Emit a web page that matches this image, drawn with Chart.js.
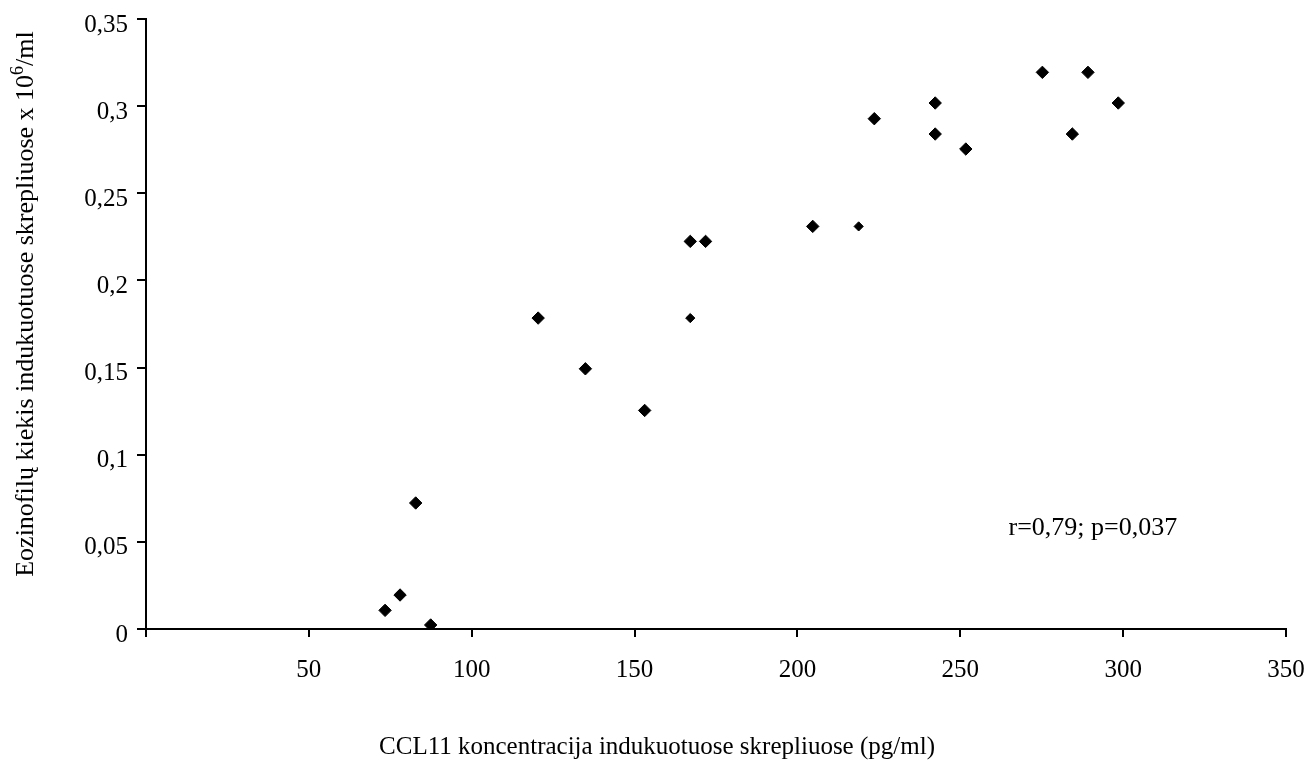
<!DOCTYPE html>
<html>
<head>
<meta charset="utf-8">
<script src="https://cdn.jsdelivr.net/npm/chart.js@4"></script>
<style>
  html, body { margin: 0; padding: 0; background: #fff; }
  #wrap { width: 1313px; height: 762px; position: relative; }
</style>
</head>
<body>
<div id="wrap"><canvas id="scatterChart"></canvas></div>
<script>
// CCL11 concentration (pg/ml) vs eosinophils (x10^6/ml)
const ccl11 = [73.4, 78.0, 82.8, 87.4, 120.4, 134.9, 153.1, 167.1, 167.1, 171.8,
               204.7, 218.8, 223.6, 242.3, 242.3, 251.7, 275.2, 289.2, 284.4, 298.5];
const eosinophils = [0.0107, 0.0195, 0.0723, 0.0023, 0.1784, 0.1493, 0.1254, 0.1784, 0.2224, 0.2224,
                     0.231, 0.231, 0.2928, 0.3018, 0.284, 0.2754, 0.3194, 0.3194, 0.284, 0.3018];
const xTicks = [0, 50, 100, 150, 200, 250, 300, 350];
const yTicks = [0, 0.05, 0.1, 0.15, 0.2, 0.25, 0.3, 0.35];
const xTitle = 'CCL11 koncentracija indukuotuose skrepliuose (pg/ml)';
const yTitle = 'Eozinofilų kiekis indukuotuose skrepliuose x 10';
const yTitleSup = '6';
const yTitleEnd = '/ml';
const statsText = 'r=0,79; p=0,037';
const statsAt = { x: 264.8, y: 0.058 };

// points drawn a bit smaller in the original
const smallPoints = [7, 11];

const FONT = "'Liberation Serif', 'Times New Roman', serif";

const titlesPlugin = {
    id: 'titles',
    afterDraw(chart) {
        const ctx = chart.ctx;
        const xs = chart.scales.x;
        const ys = chart.scales.y;
        ctx.save();
        ctx.fillStyle = '#000';

        // x axis title
        ctx.font = '25px ' + FONT;
        ctx.textAlign = 'center';
        ctx.textBaseline = 'middle';
        ctx.fillText(xTitle, 657, 747);

        // y axis title, rotated, with superscript 6
        ctx.translate(26, 304);
        ctx.rotate(-Math.PI / 2);
        ctx.font = '26px ' + FONT;
        const w1 = ctx.measureText(yTitle).width;
        ctx.font = '18px ' + FONT;
        const w2 = ctx.measureText(yTitleSup).width;
        ctx.font = '26px ' + FONT;
        const w3 = ctx.measureText(yTitleEnd).width;
        const start = -(w1 + w2 + w3) / 2;
        ctx.textAlign = 'left';
        ctx.fillText(yTitle, start, 0);
        ctx.font = '18px ' + FONT;
        ctx.fillText(yTitleSup, start + w1, -8);
        ctx.font = '26px ' + FONT;
        ctx.fillText(yTitleEnd, start + w1 + w2, 0);
        ctx.restore();

        // correlation note
        ctx.save();
        ctx.fillStyle = '#000';
        ctx.font = '26px ' + FONT;
        ctx.textAlign = 'left';
        ctx.textBaseline = 'middle';
        ctx.fillText(statsText, xs.getPixelForValue(statsAt.x), ys.getPixelForValue(statsAt.y));
        ctx.restore();
    }
};

const ctx = document.getElementById('scatterChart').getContext('2d');

new Chart(ctx, {
    type: 'scatter',
    data: {
        datasets: [{
            data: ccl11.map((x, i) => ({ x: x, y: eosinophils[i] })),
            backgroundColor: '#000',
            borderColor: '#000',
            borderWidth: 1,
            pointStyle: 'rectRot',
            pointRadius: (c) => smallPoints.includes(c.dataIndex) ? 4.6 : 6.2
        }]
    },
    options: {
        responsive: true,
        maintainAspectRatio: false,
        animation: false,
        layout: { padding: { top: 19, right: 27, left: 0, bottom: 0 } },
        plugins: {
            legend: { display: false },
            tooltip: { enabled: false }
        },
        scales: {
            x: {
                type: 'linear',
                min: 0,
                max: 350,
                afterBuildTicks: (scale) => { scale.ticks = xTicks.map(v => ({ value: v })); },
                afterFit: (scale) => {
                    scale.height = 133;
                    scale.paddingLeft = 0;
                    scale.paddingRight = 0;
                },
                border: { display: true, color: '#000', width: 2 },
                grid: { display: true, drawOnChartArea: false, drawTicks: true, tickLength: 8, color: '#000', lineWidth: 2 },
                ticks: {
                    color: '#000',
                    font: { family: FONT, size: 25 },
                    padding: 18,
                    maxRotation: 0,
                    callback: (v) => v === 0 ? '' : String(v)
                }
            },
            y: {
                type: 'linear',
                min: 0,
                max: 0.35,
                afterBuildTicks: (scale) => { scale.ticks = yTicks.map(v => ({ value: v })); },
                afterFit: (scale) => {
                    scale.width = 146;
                    scale.paddingTop = 0;
                    scale.paddingBottom = 0;
                },
                border: { display: true, color: '#000', width: 2 },
                grid: { display: true, drawOnChartArea: false, drawTicks: true, tickLength: 9, color: '#000', lineWidth: 2 },
                ticks: {
                    color: '#000',
                    font: { family: FONT, size: 25 },
                    padding: 9,
                    labelOffset: 6,
                    callback: (v) => String(Math.round(v * 100) / 100).replace('.', ',')
                }
            }
        }
    },
    plugins: [titlesPlugin]
});
</script>
</body>
</html>
